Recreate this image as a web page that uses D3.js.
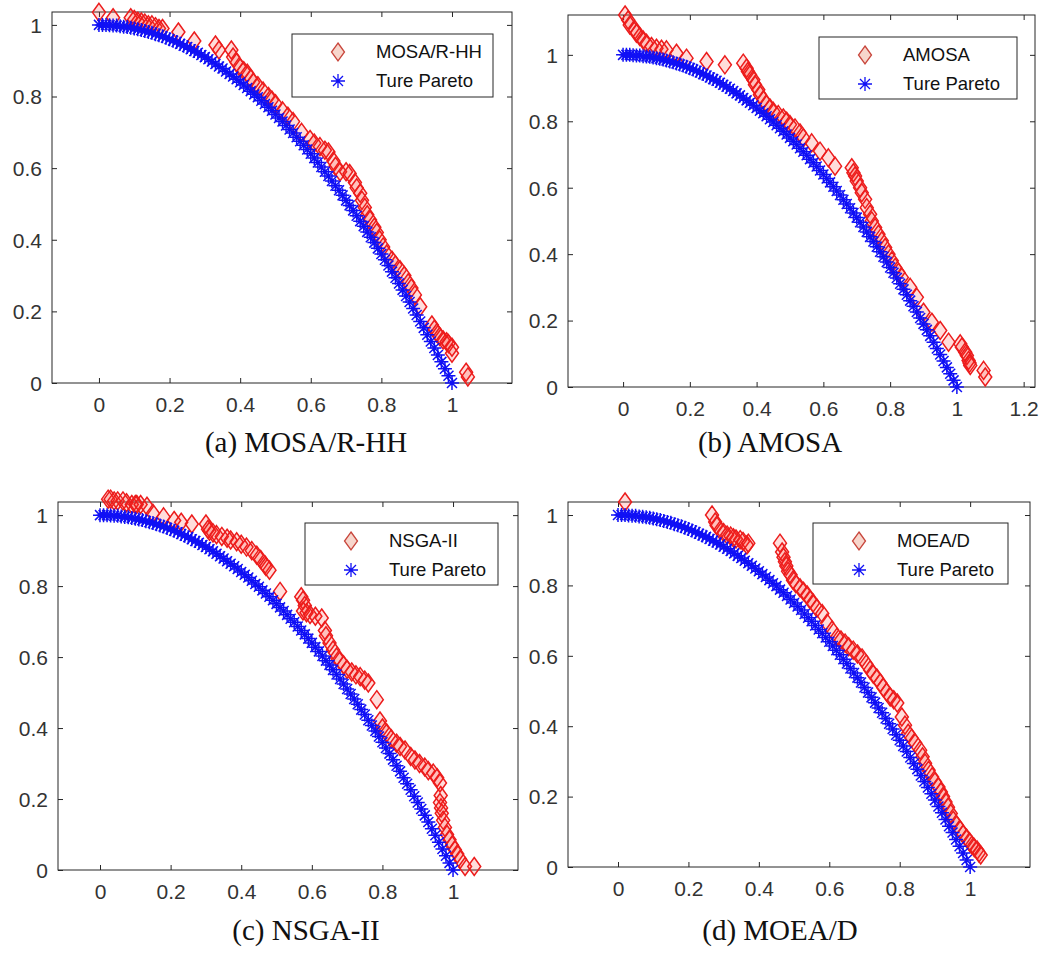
<!DOCTYPE html>
<html>
<head>
<meta charset="utf-8">
<script src="https://cdn.jsdelivr.net/npm/d3@7"></script>
<style>
  body { margin: 0; background: #fff; }
  svg { display: block; }
</style>
</head>
<body>
<script>
// canvas size
const width = 1043,
  height = 959;

// True Pareto front (same in every panel), f1 and f2
const paretoF1 = [0, 0.01, 0.02, 0.03, 0.04, 0.05, 0.06, 0.07, 0.08, 0.09,
  0.10, 0.11, 0.12, 0.13, 0.14, 0.15, 0.16, 0.17, 0.18, 0.19,
  0.20, 0.21, 0.22, 0.23, 0.24, 0.25, 0.26, 0.27, 0.28, 0.29,
  0.30, 0.31, 0.32, 0.33, 0.34, 0.35, 0.36, 0.37, 0.38, 0.39,
  0.40, 0.41, 0.42, 0.43, 0.44, 0.45, 0.46, 0.47, 0.48, 0.49,
  0.50, 0.51, 0.52, 0.53, 0.54, 0.55, 0.56, 0.57, 0.58, 0.59,
  0.60, 0.61, 0.62, 0.63, 0.64, 0.65, 0.66, 0.67, 0.68, 0.69,
  0.70, 0.71, 0.72, 0.73, 0.74, 0.75, 0.76, 0.77, 0.78, 0.79,
  0.80, 0.81, 0.82, 0.83, 0.84, 0.85, 0.86, 0.87, 0.88, 0.89,
  0.90, 0.91, 0.92, 0.93, 0.94, 0.95, 0.96, 0.97, 0.98, 0.99, 1.00];
const paretoF2 = [1, 1.000, 1.000, 0.999, 0.998, 0.998, 0.996, 0.995, 0.994, 0.992,
  0.990, 0.988, 0.986, 0.983, 0.980, 0.978, 0.974, 0.971, 0.968, 0.964,
  0.960, 0.956, 0.952, 0.947, 0.942, 0.938, 0.932, 0.927, 0.922, 0.916,
  0.910, 0.904, 0.898, 0.891, 0.884, 0.878, 0.870, 0.863, 0.856, 0.848,
  0.840, 0.832, 0.824, 0.815, 0.806, 0.798, 0.788, 0.779, 0.770, 0.760,
  0.750, 0.740, 0.730, 0.719, 0.708, 0.698, 0.686, 0.675, 0.664, 0.652,
  0.640, 0.628, 0.616, 0.603, 0.590, 0.578, 0.564, 0.551, 0.538, 0.524,
  0.510, 0.496, 0.482, 0.467, 0.452, 0.438, 0.422, 0.407, 0.392, 0.376,
  0.360, 0.344, 0.328, 0.311, 0.294, 0.278, 0.260, 0.243, 0.226, 0.208,
  0.190, 0.172, 0.154, 0.135, 0.116, 0.098, 0.078, 0.059, 0.040, 0.020, 0];

// obtained fronts of each algorithm, [f1, f2]
const mosaRhh = [[0, 1.035], [0.04, 1.02], [0.09, 1.02], [0.10, 1.015], [0.11, 1.01],
  [0.12, 1.008], [0.13, 1.005], [0.14, 1.0], [0.15, 1.0], [0.16, 0.995],
  [0.17, 0.99], [0.18, 0.99], [0.225, 0.98], [0.27, 0.955], [0.33, 0.944],
  [0.34, 0.93], [0.375, 0.93], [0.38, 0.91], [0.39, 0.895], [0.40, 0.88],
  [0.41, 0.872], [0.42, 0.865], [0.43, 0.85], [0.437, 0.84], [0.45, 0.83],
  [0.465, 0.815], [0.48, 0.80], [0.49, 0.79], [0.50, 0.78], [0.52, 0.76],
  [0.535, 0.745], [0.55, 0.73], [0.574, 0.70], [0.598, 0.68], [0.61, 0.67],
  [0.626, 0.66], [0.64, 0.65], [0.65, 0.645], [0.664, 0.62], [0.67, 0.605],
  [0.683, 0.59], [0.70, 0.59], [0.71, 0.585], [0.725, 0.56], [0.73, 0.545],
  [0.74, 0.53], [0.745, 0.51], [0.753, 0.49], [0.76, 0.47], [0.768, 0.455],
  [0.78, 0.435], [0.787, 0.42], [0.795, 0.40], [0.805, 0.38], [0.815, 0.36],
  [0.83, 0.343], [0.84, 0.33], [0.853, 0.316], [0.865, 0.30], [0.876, 0.28],
  [0.885, 0.265], [0.895, 0.246], [0.91, 0.213], [0.943, 0.162], [0.95, 0.15],
  [0.957, 0.14], [0.965, 0.13], [0.975, 0.12], [0.985, 0.115], [0.99, 0.11],
  [1.0, 0.1], [1.0, 0.083], [1.04, 0.03], [1.045, 0.017]];

const amosa = [[0.006, 1.12], [0.015, 1.105], [0.02, 1.09], [0.036, 1.075], [0.04, 1.065],
  [0.05, 1.055], [0.06, 1.045], [0.07, 1.035], [0.085, 1.025], [0.10, 1.02],
  [0.115, 1.017], [0.13, 1.015], [0.16, 1.005], [0.19, 0.99], [0.25, 0.98],
  [0.305, 0.97], [0.36, 0.975], [0.37, 0.96], [0.374, 0.95], [0.38, 0.94],
  [0.39, 0.925], [0.395, 0.91], [0.405, 0.895], [0.41, 0.88], [0.42, 0.865],
  [0.43, 0.85], [0.44, 0.84], [0.45, 0.83], [0.465, 0.82], [0.48, 0.81],
  [0.49, 0.80], [0.50, 0.79], [0.515, 0.78], [0.53, 0.765], [0.54, 0.75],
  [0.565, 0.735], [0.59, 0.71], [0.615, 0.69], [0.635, 0.665], [0.685, 0.66],
  [0.69, 0.645], [0.695, 0.635], [0.70, 0.62], [0.71, 0.60], [0.715, 0.585],
  [0.725, 0.565], [0.73, 0.54], [0.74, 0.52], [0.745, 0.50], [0.755, 0.48],
  [0.765, 0.46], [0.775, 0.44], [0.785, 0.42], [0.795, 0.40], [0.805, 0.38],
  [0.815, 0.36], [0.825, 0.345], [0.835, 0.33], [0.86, 0.30], [0.88, 0.27],
  [0.90, 0.225], [0.925, 0.195], [0.95, 0.17], [0.975, 0.135], [1.01, 0.13],
  [1.015, 0.12], [1.025, 0.105], [1.03, 0.095], [1.035, 0.08], [1.038, 0.072],
  [1.04, 0.065], [1.08, 0.05], [1.085, 0.03]];

const nsga2 = [[0.023, 1.045], [0.03, 1.045], [0.04, 1.04], [0.05, 1.04], [0.065, 1.04],
  [0.075, 1.035], [0.09, 1.03], [0.10, 1.03], [0.104, 1.03], [0.115, 1.03],
  [0.133, 1.025], [0.15, 1.005], [0.18, 0.995], [0.21, 0.985], [0.23, 0.98],
  [0.26, 0.975], [0.30, 0.975], [0.306, 0.96], [0.31, 0.955], [0.32, 0.95],
  [0.33, 0.945], [0.345, 0.94], [0.36, 0.935], [0.37, 0.93], [0.387, 0.925],
  [0.40, 0.918], [0.415, 0.91], [0.43, 0.90], [0.444, 0.887], [0.455, 0.875],
  [0.467, 0.86], [0.47, 0.855], [0.48, 0.845], [0.51, 0.785], [0.57, 0.77],
  [0.575, 0.76], [0.58, 0.745], [0.575, 0.73], [0.585, 0.725], [0.595, 0.72],
  [0.61, 0.715], [0.628, 0.71], [0.637, 0.675], [0.64, 0.66], [0.65, 0.64],
  [0.66, 0.62], [0.67, 0.60], [0.68, 0.59], [0.69, 0.578], [0.70, 0.565],
  [0.713, 0.558], [0.725, 0.55], [0.737, 0.545], [0.75, 0.535], [0.76, 0.527],
  [0.784, 0.48], [0.793, 0.42], [0.80, 0.40], [0.812, 0.386], [0.825, 0.37],
  [0.84, 0.357], [0.85, 0.348], [0.864, 0.338], [0.88, 0.32], [0.892, 0.31],
  [0.905, 0.30], [0.92, 0.29], [0.93, 0.28], [0.944, 0.273], [0.955, 0.26],
  [0.963, 0.245], [0.965, 0.21], [0.963, 0.19], [0.966, 0.175], [0.968, 0.16],
  [0.972, 0.14], [0.977, 0.12], [0.983, 0.10], [0.99, 0.085], [0.997, 0.07],
  [1.005, 0.057], [1.012, 0.045], [1.02, 0.03], [1.034, 0.01], [1.06, 0.01]];

const moead = [[0.02, 1.037], [0.267, 1.0], [0.276, 0.98], [0.28, 0.97], [0.29, 0.957],
  [0.30, 0.95], [0.31, 0.943], [0.32, 0.94], [0.328, 0.935], [0.335, 0.932],
  [0.347, 0.93], [0.355, 0.925], [0.366, 0.915], [0.37, 0.92], [0.46, 0.92],
  [0.466, 0.895], [0.47, 0.88], [0.474, 0.867], [0.478, 0.855], [0.483, 0.84],
  [0.49, 0.83], [0.497, 0.815], [0.505, 0.805], [0.517, 0.793], [0.527, 0.783],
  [0.537, 0.773], [0.545, 0.76], [0.554, 0.75], [0.565, 0.735], [0.58, 0.72],
  [0.594, 0.693], [0.608, 0.673], [0.622, 0.653], [0.633, 0.645], [0.645, 0.636],
  [0.655, 0.626], [0.668, 0.616], [0.68, 0.605], [0.693, 0.594], [0.705, 0.577],
  [0.716, 0.56], [0.725, 0.548], [0.735, 0.537], [0.745, 0.523], [0.753, 0.51],
  [0.763, 0.497], [0.773, 0.483], [0.783, 0.475], [0.793, 0.466], [0.806, 0.426],
  [0.815, 0.403], [0.824, 0.38], [0.834, 0.366], [0.844, 0.352], [0.858, 0.332],
  [0.865, 0.313], [0.872, 0.295], [0.882, 0.275], [0.892, 0.256], [0.90, 0.242],
  [0.91, 0.227], [0.917, 0.213], [0.923, 0.2], [0.93, 0.185], [0.937, 0.17],
  [0.945, 0.152], [0.952, 0.133], [0.962, 0.119], [0.972, 0.105], [0.98, 0.093],
  [0.99, 0.082], [0.998, 0.072], [1.005, 0.062], [1.012, 0.055], [1.02, 0.048],
  [1.025, 0.04], [1.03, 0.034]];

const algoNames = ["MOSA/R-HH", "AMOSA", "NSGA-II", "MOEA/D"];
const captions = ["(a) MOSA/R-HH", "(b) AMOSA", "(c) NSGA-II", "(d) MOEA/D"];
const yTicks = [0, 0.2, 0.4, 0.6, 0.8, 1];
const xTicksShort = [0, 0.2, 0.4, 0.6, 0.8, 1];
const xTicksLong = [0, 0.2, 0.4, 0.6, 0.8, 1, 1.2];
const paretoName = "Ture Pareto";

const pareto = paretoF1.map((x, i) => [x, paretoF2[i]]);

// layout of the four axes boxes (pixels) and their data limits
const panels = [
  { data: mosaRhh, box: [52, 12, 512, 383], xd: [-0.133, 1.17], yd: [0, 1.036], xt: xTicksShort, leg: [292, 34, 201, 63], cap: [306, 452] },
  { data: amosa, box: [568, 15, 1035, 387], xd: [-0.165, 1.234], yd: [0, 1.12], xt: xTicksLong, leg: [819, 37, 198, 62], cap: [770, 452] },
  { data: nsga2, box: [58, 502, 518, 870], xd: [-0.119, 1.184], yd: [0, 1.037], xt: xTicksShort, leg: [305, 523, 193, 62], cap: [306, 940] },
  { data: moead, box: [568, 502, 1030, 867], xd: [-0.142, 1.17], yd: [0, 1.037], xt: xTicksShort, leg: [813, 523, 195, 61], cap: [780, 940] }
];

const axisColor = "#262626";
const redColor = "#ec1c1c";
const blueColor = "#1010f5";

// matlab style markers
const diamondPath = "M0,-9L6.5,0L0,9L-6.5,0Z";
const starPath = "M-7,0H7M0,-7V7M-5,-5L5,5M-5,5L5,-5";

const svg = d3.select("body")
  .append("svg")
  .attr("width", width)
  .attr("height", height);

const fmt = d => d3.format("~g")(d);

panels.forEach((p, i) => {
  const [x0, y0, x1, y1] = p.box;
  const xScale = d3.scaleLinear().domain(p.xd).range([x0, x1]);
  const yScale = d3.scaleLinear().domain(p.yd).range([y1, y0]);

  const g = svg.append("g");

  // axes box
  g.append("rect")
    .attr("x", x0).attr("y", y0)
    .attr("width", x1 - x0).attr("height", y1 - y0)
    .attr("fill", "none")
    .attr("stroke", axisColor)
    .attr("stroke-width", 1);

  // inner ticks on all four sides
  const tickLen = 5;
  const bottomAxis = d3.axisBottom(xScale).tickValues(p.xt).tickSize(-tickLen).tickFormat(fmt);
  const topAxis = d3.axisTop(xScale).tickValues(p.xt).tickSize(-tickLen).tickFormat("");
  const leftAxis = d3.axisLeft(yScale).tickValues(yTicks).tickSize(-tickLen).tickFormat(fmt);
  const rightAxis = d3.axisRight(yScale).tickValues(yTicks).tickSize(-tickLen).tickFormat("");

  const gb = g.append("g").attr("transform", `translate(0,${y1})`).call(bottomAxis);
  const gt = g.append("g").attr("transform", `translate(0,${y0})`).call(topAxis);
  const gl = g.append("g").attr("transform", `translate(${x0},0)`).call(leftAxis);
  const gr = g.append("g").attr("transform", `translate(${x1},0)`).call(rightAxis);

  [gb, gt, gl, gr].forEach(a => {
    a.select(".domain").remove();
    a.selectAll(".tick line").attr("stroke", axisColor);
    a.selectAll(".tick text")
      .attr("fill", "#333")
      .style("font-family", "'Liberation Sans', Arial, sans-serif")
      .style("font-size", "21px");
  });
  gb.selectAll(".tick text").attr("y", 14).attr("dy", "0.71em");
  gl.selectAll(".tick text").attr("x", -10).attr("dy", "0.35em");

  // algorithm front: red diamonds, a faint fill so stacked ones turn solid
  g.append("g")
    .selectAll("path")
    .data(p.data)
    .enter()
    .append("path")
    .attr("d", diamondPath)
    .attr("transform", d => `translate(${xScale(d[0])},${yScale(d[1])})`)
    .attr("fill", "#ff2a20")
    .attr("fill-opacity", 0.16)
    .attr("stroke", redColor)
    .attr("stroke-width", 1.5);

  // true pareto front: blue asterisks
  g.append("g")
    .selectAll("path")
    .data(pareto)
    .enter()
    .append("path")
    .attr("d", starPath)
    .attr("transform", d => `translate(${xScale(d[0])},${yScale(d[1])})`)
    .attr("fill", "none")
    .attr("stroke", blueColor)
    .attr("stroke-width", 1.5);

  // legend
  const [lx, ly, lw, lh] = p.leg;
  const leg = g.append("g");
  leg.append("rect")
    .attr("x", lx).attr("y", ly)
    .attr("width", lw).attr("height", lh)
    .attr("fill", "#fff")
    .attr("stroke", axisColor)
    .attr("stroke-width", 1);

  const rows = [
    { name: algoNames[i], path: diamondPath, fill: "#f7d6cc", stroke: "#c8463c", sw: 1.3 },
    { name: paretoName, path: starPath, fill: "none", stroke: blueColor, sw: 1.3 }
  ];
  rows.forEach((r, k) => {
    const cy = ly + 18 + k * 29;
    leg.append("path")
      .attr("d", r.path)
      .attr("transform", `translate(${lx + 46},${cy})`)
      .attr("fill", r.fill)
      .attr("stroke", r.stroke)
      .attr("stroke-width", r.sw);
    leg.append("text")
      .attr("x", lx + 84)
      .attr("y", cy)
      .attr("dy", "0.35em")
      .attr("fill", "#111")
      .style("font-family", "'Liberation Sans', Arial, sans-serif")
      .style("font-size", "18.5px")
      .text(r.name);
  });

  // caption below the panel
  svg.append("text")
    .attr("x", p.cap[0])
    .attr("y", p.cap[1])
    .attr("text-anchor", "middle")
    .attr("fill", "#111")
    .style("font-family", "'Liberation Serif', 'Times New Roman', serif")
    .style("font-size", "29px")
    .text(captions[i]);
});
</script>
</body>
</html>
